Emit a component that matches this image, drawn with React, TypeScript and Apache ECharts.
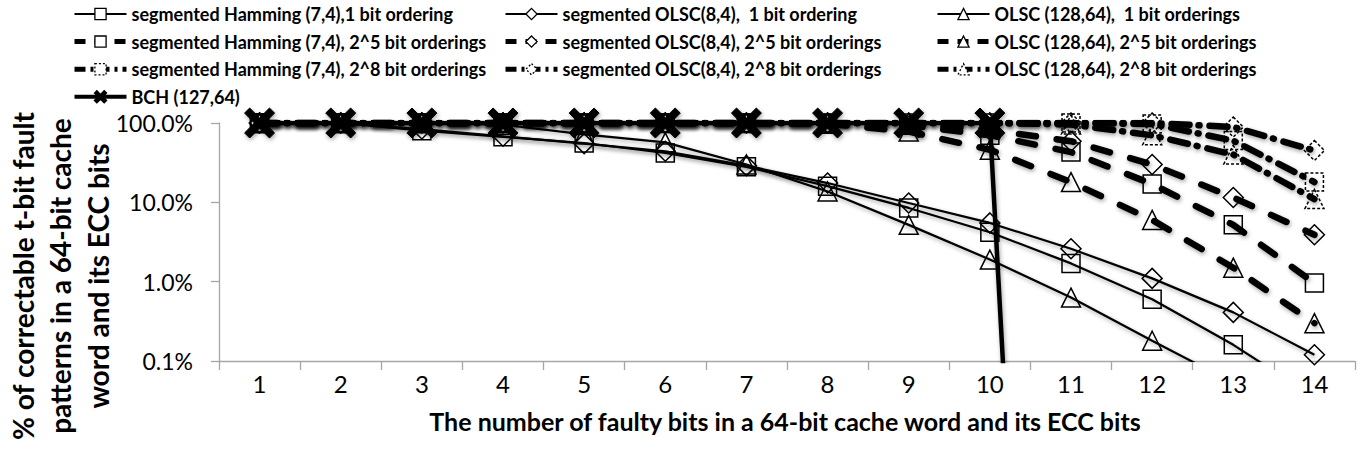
import React, { useEffect, useRef } from "react";
import * as echarts from "echarts";

const categories = ["1", "2", "3", "4", "5", "6", "7", "8", "9", "10", "11", "12", "13", "14"];

// values in percent
const hamming1 = [100, 100, 80, 67, 56, 42, 28, 16, 8.5, 4.2, 1.7, 0.6, 0.16, 0.035];
const olsc8_1 = [100, 100, 84, 68, 55, 44, 29, 17.5, 9.8, 5.5, 2.6, 1.1, 0.41, 0.12];
const olsc128_1 = [100, 100, 100, 95, 72, 57, 30, 13.7, 5.2, 1.9, 0.63, 0.18, 0.053, 0.015];

const hamming25 = [100, 100, 100, 100, 100, 100, 100, 99, 94, 70, 43, 17, 5.2, 0.96];
const olsc8_25 = [100, 100, 100, 100, 100, 100, 100, 100, 98, 82, 59, 30, 11.5, 3.9];
const olsc128_25 = [100, 100, 100, 100, 100, 100, 100, 98, 78, 46, 18, 6, 1.5, 0.3];

const hamming28 = [100, 100, 100, 100, 100, 100, 100, 100, 100, 100, 100, 97, 60, 18];
const olsc8_28 = [100, 100, 100, 100, 100, 100, 100, 100, 100, 100, 100, 100, 89, 45];
const olsc128_28 = [100, 100, 100, 100, 100, 100, 100, 100, 100, 100, 96, 70, 40, 11];

const bch = [100, 100, 100, 100, 100, 100, 100, 100, 100, 100, 2e-17, null, null, null];

const yTicks = [0.1, 1, 10, 100];

const names = {
  h1: "segmented Hamming (7,4),1 bit ordering",
  h25: "segmented Hamming (7,4), 2^5 bit orderings",
  h28: "segmented Hamming (7,4), 2^8 bit orderings",
  bch: "BCH (127,64)",
  o1: "segmented OLSC(8,4),  1 bit ordering",
  o25: "segmented OLSC(8,4), 2^5 bit orderings",
  o28: "segmented OLSC(8,4), 2^8 bit orderings",
  p1: "OLSC (128,64),  1 bit orderings",
  p25: "OLSC (128,64), 2^5 bit orderings",
  p28: "OLSC (128,64), 2^8 bit orderings",
};

const FONT = "Lato";
const X_PATH =
  "path://M0,1.7 L1.7,0 L5,3.3 L8.3,0 L10,1.7 L6.7,5 L10,8.3 L8.3,10 L5,6.7 L1.7,10 L0,8.3 L3.3,5 Z";

const shadow = { shadowBlur: 4, shadowColor: "rgba(0,0,0,0.35)", shadowOffsetX: 1, shadowOffsetY: 2 };

const D5 = [17, 21];
const D8 = [18, 9, 1, 10];

function makeSeries(name: string, data: any[], symbol: string, kind: string) {
  const size = symbol === "diamond" ? 20 : symbol === "triangle" ? 19 : 18;
  let lineStyle: any;
  let itemStyle: any = { color: "transparent", borderColor: "#000", borderWidth: 1.5 };
  if (kind === "solid") {
    lineStyle = { color: "#000", width: 2.2, type: "solid", ...shadow };
  } else if (kind === "d5") {
    lineStyle = { color: "#000", width: 6.5, type: D5, cap: "round", ...shadow };
  } else {
    lineStyle = { color: "#000", width: 6.5, type: D8, cap: "round", ...shadow };
    itemStyle = { ...itemStyle, borderType: [3, 2] };
  }
  return {
    name,
    type: "line",
    data,
    symbol,
    symbolSize: size,
    showAllSymbol: true,
    lineStyle,
    itemStyle,
    emphasis: { disabled: true },
    clip: true,
  };
}

function legendItem(name: string, kind: string) {
  const itemStyle = { color: "#fff", borderColor: "#000", borderWidth: 1.3, shadowBlur: 0 };
  if (kind === "solid") return { name, itemStyle, lineStyle: { width: 2.2, type: "solid", shadowBlur: 0 } };
  if (kind === "d5")
    return { name, itemStyle, lineStyle: { width: 5, type: [11, 9], cap: "butt", shadowBlur: 0 } };
  if (kind === "d8")
    return {
      name,
      itemStyle: { ...itemStyle, borderType: [2, 2] },
      lineStyle: { width: 5, type: [11, 5, 3, 5], cap: "butt", shadowBlur: 0 },
    };
  return { name, lineStyle: { width: 4, type: "solid", shadowBlur: 0 } };
}

export default function App() {
  const ref = useRef<HTMLDivElement>(null);
  useEffect(() => {
    if (!ref.current) return;
    const chart = echarts.init(ref.current, null, { renderer: "svg" });
    const series: any[] = [
      makeSeries(names.h1, hamming1, "rect", "solid"),
      makeSeries(names.o1, olsc8_1, "diamond", "solid"),
      makeSeries(names.p1, olsc128_1, "triangle", "solid"),
      makeSeries(names.h25, hamming25, "rect", "d5"),
      makeSeries(names.o25, olsc8_25, "diamond", "d5"),
      makeSeries(names.p25, olsc128_25, "triangle", "d5"),
      makeSeries(names.h28, hamming28, "rect", "d8"),
      makeSeries(names.o28, olsc8_28, "diamond", "d8"),
      makeSeries(names.p28, olsc128_28, "triangle", "d8"),
      {
        name: names.bch,
        type: "line",
        data: bch.map((v, i) => (i === 10 ? { value: v, symbol: "none" } : v)),
        symbol: X_PATH,
        symbolSize: 30,
        showAllSymbol: true,
        lineStyle: { color: "#000", width: 4.5, ...shadow },
        itemStyle: { color: "#000", borderColor: "#000", borderWidth: 1, ...shadow },
        emphasis: { disabled: true },
        clip: true,
      },
    ];
    const legendBase = {
      orient: "vertical",
      top: 5,
      padding: 0,
      itemGap: 9.6,
      itemWidth: 52,
      itemHeight: 14,
      selectedMode: false,
      textStyle: { fontFamily: FONT, fontWeight: "bold", fontSize: 18, color: "#000" },
    };
    chart.setOption({
      animation: false,
      backgroundColor: "#fff",
      grid: { left: 219, right: 16, top: 123, bottom: 104 },
      legend: [
        {
          ...legendBase,
          left: 72,
          data: [
            legendItem(names.h1, "solid"),
            legendItem(names.h25, "d5"),
            legendItem(names.h28, "d8"),
            legendItem(names.bch, "bch"),
          ],
        },
        {
          ...legendBase,
          left: 503,
          data: [legendItem(names.o1, "solid"), legendItem(names.o25, "d5"), legendItem(names.o28, "d8")],
        },
        {
          ...legendBase,
          left: 935,
          data: [legendItem(names.p1, "solid"), legendItem(names.p25, "d5"), legendItem(names.p28, "d8")],
        },
      ],
      xAxis: {
        type: "category",
        data: categories,
        boundaryGap: true,
        axisLine: { show: true, lineStyle: { color: "#a6a6a6", width: 1.3 } },
        axisTick: { show: true, length: 9, lineStyle: { color: "#a6a6a6", width: 1.3 } },
        axisLabel: { fontFamily: FONT, fontSize: 24, color: "#000", margin: 10 },
      },
      yAxis: {
        type: "log",
        logBase: 10,
        min: yTicks[0],
        max: yTicks[yTicks.length - 1],
        axisLine: { show: true, lineStyle: { color: "#a6a6a6", width: 1.3 } },
        axisTick: { show: true, length: 8, lineStyle: { color: "#a6a6a6", width: 1.3 } },
        splitLine: { show: false },
        axisLabel: {
          fontFamily: FONT,
          fontSize: 23,
          color: "#000",
          margin: 26,
          formatter: (v: number) => v.toFixed(1) + "%",
        },
      },
      graphic: [
        {
          type: "text",
          x: 785,
          y: 421,
          style: {
            text: "The number of faulty bits in a 64-bit cache word and its ECC bits",
            font: `bold 25px ${FONT}`,
            textAlign: "center",
            textVerticalAlign: "middle",
            fill: "#000",
          },
        },
        {
          type: "text",
          x: 60,
          y: 276,
          rotation: Math.PI / 2,
          style: {
            text: "% of correctable t-bit fault\npatterns in a 64-bit cache\nword and its ECC bits",
            font: `bold 28px ${FONT}`,
            lineHeight: 37.5,
            textAlign: "center",
            textVerticalAlign: "middle",
            fill: "#000",
          },
        },
      ],
      series,
    });
    return () => chart.dispose();
  }, []);
  return (
    <div
      ref={ref}
      style={{ position: "fixed", left: 0, top: 0, width: 1371, height: 465, background: "#fff" }}
    />
  );
}
